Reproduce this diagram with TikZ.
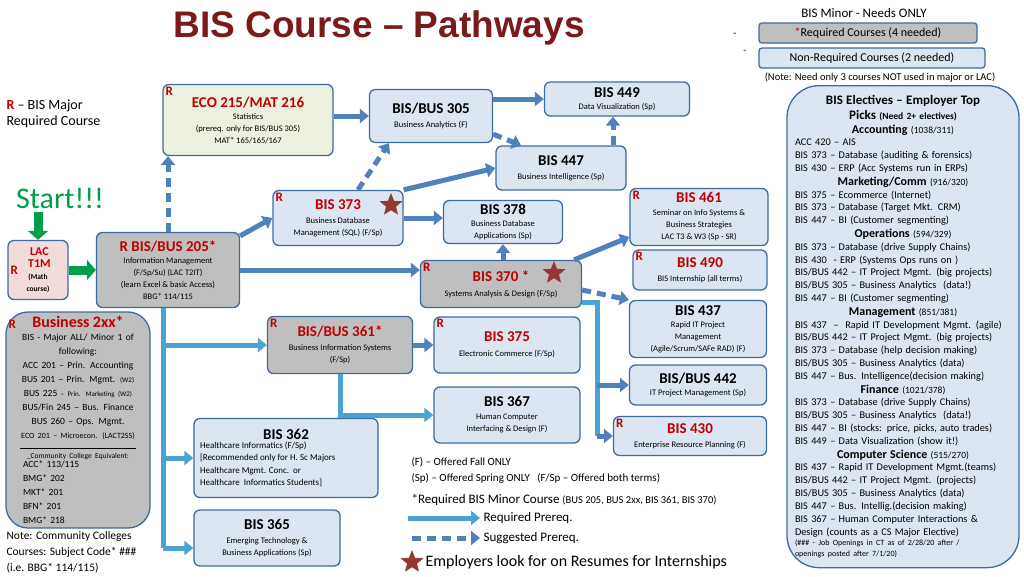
\documentclass[tikz,border=0pt]{standalone}
\usepackage{fontspec}
\setmainfont{Carlito}
\newfontfamily\titlefont{Liberation Sans}
\usetikzlibrary{arrows.meta,shapes.geometric}
\definecolor{boxblue}{HTML}{DCE6F2}
\definecolor{edgeblue}{HTML}{3F6A9E}
\definecolor{arrblue}{HTML}{4F81BD}
\definecolor{arrcyan}{HTML}{4BA3D3}
\definecolor{boxgray}{HTML}{BFBFBF}
\definecolor{boxgreen}{HTML}{EBF1DE}
\definecolor{boxpink}{HTML}{F2DCDB}
\definecolor{redtxt}{HTML}{C00000}
\definecolor{titlered}{HTML}{7B1A1A}
\definecolor{stargreen}{HTML}{00A04A}
\definecolor{starred}{HTML}{953735}
\newcommand{\course}[5][]{
	\path (#2,#3) node[course, #1](#4){#5};
}
\newcommand{\edge}[3][]{
	\draw[#1] (#2) -- (#3);
}
\newcommand{\ttl}[1]{{\fontsize{15}{16}\selectfont\bfseries #1}}
\newcommand{\rttl}[1]{{\fontsize{15}{16}\selectfont\bfseries\color{redtxt}#1}}
\newcommand{\sm}{\fontsize{8.5}{10}\selectfont}
\newcommand{\elhead}[2]{{\centering\fontsize{12}{13.6}\selectfont\bfseries #1 {\mdseries\fontsize{9.5}{10}\selectfont(#2)}\par}}
\tikzset{
	course/.style={draw=edgeblue, line width=1.3pt, fill=boxblue, rounded corners=6pt, align=center, inner sep=2pt},
	graybox/.style={fill=boxgray},
	rlab/.style={text=redtxt, font=\bfseries\fontsize{13}{13}\selectfont, inner sep=3pt},
	req/.style={line width=5pt, draw=arrblue, -{Triangle[length=9pt,width=14pt]}},
	reqc/.style={line width=5pt, draw=arrcyan, -{Triangle[length=9pt,width=14pt]}},
	sug/.style={line width=5pt, draw=arrblue, dash pattern=on 9pt off 6pt, -{Triangle[length=9pt,width=14pt]}},
	trunk/.style={line width=5pt, draw=arrcyan},
	starmark/.style={star, star points=5, star point ratio=2.3, fill=starred, inner sep=0pt, minimum size=24pt},
}
\begin{document}
\begin{tikzpicture}[x=1pt, y=-1pt]
	\useasboundingbox (0,0) rectangle (1024,576);

	% heading and legend at top
	\node (title) at (379,28) {\titlefont\bfseries\fontsize{37}{38}\selectfont\color{titlered}BIS Course – Pathways};
	\node (minor) at (864,13) {\fontsize{13}{14}\selectfont BIS Minor - Needs ONLY};
	\node[course, graybox, rounded corners=3pt, minimum width=218pt, minimum height=20pt] (minreq) at (868,33) {\fontsize{12}{13}\selectfont\textcolor{redtxt}{*}Required Courses (4 needed)};
	\node[course, rounded corners=3pt, minimum width=226pt, minimum height=20pt] (minnon) at (872,58) {\fontsize{12}{13}\selectfont Non-Required Courses (2 needed)};
	\node (dash1) at (735,35) {-};
	\node (dash2) at (745,52) {-};
	\node (note) at (880,78) {\fontsize{10.5}{11}\selectfont(Note: Need only 3 courses NOT used in major or LAC)};
	\node[align=left, anchor=north west, font=\fontsize{14}{16}\selectfont] (rkey) at (3,96) {\textcolor{redtxt}{\bfseries R} -- BIS Major\\ Required Course};
	\node (start) at (60,198) {\fontsize{30}{30}\selectfont\color{stargreen}Start!!!};

	% courses
	\course[fill=boxgreen, minimum width=170pt, minimum height=71pt, label={[rlab, anchor=north west]north west:R}]{248}{120}{eco}{\rttl{ECO 215/MAT 216}\\ \sm Statistics\\ \sm(prereq. only for BIS/BUS 305)\\ \sm MAT* 165/165/167}
	\course[minimum width=123pt, minimum height=53pt]{431}{116}{b305}{\ttl{BIS/BUS 305}\\[2pt] \sm Business Analytics (F)}
	\course[minimum width=145pt, minimum height=34pt]{617}{99}{b449}{\ttl{BIS 449}\\ \sm Data Visualization (Sp)}
	\course[minimum width=130pt, minimum height=44pt]{561}{168}{b447}{\ttl{BIS 447}\\[2pt] \sm Business Intelligence (Sp)}
	\course[minimum width=130pt, minimum height=55pt, label={[rlab, anchor=north west]north west:R}]{338}{218}{b373}{\rttl{BIS 373}\hspace{22pt}\\[2pt] \sm Business Database\\ \sm Management (SQL) (F/Sp)}
	\course[minimum width=119pt, minimum height=43pt]{503}{222}{b378}{\ttl{BIS 378}\\ \sm Business Database\\ \sm Applications (Sp)}
	\course[minimum width=138pt, minimum height=57pt, label={[rlab, anchor=north west]north west:R}]{699}{217}{b461}{\rttl{BIS 461}\\[1pt] \sm Seminar on Info Systems \&\\ \sm Business Strategies\\ \sm LAC T3 \& W3 (Sp - SR)}
	\course[graybox, minimum width=143pt, minimum height=75pt]{168}{270}{b205}{\rttl{R BIS/BUS 205*}\\ \sm Information Management\\ \sm (F/Sp/Su) (LAC T2IT)\\ \sm (learn Excel \& basic Access)\\ \sm BBG* 114/115}
	\course[fill=boxpink, minimum width=60pt, minimum height=59pt, label={[rlab, anchor=west]west:R}]{38}{270}{lac}{\textcolor{redtxt}{\bfseries\fontsize{12}{12}\selectfont\ LAC}\\ \textcolor{redtxt}{\bfseries\fontsize{12}{12}\selectfont\ T1M}\\ \bfseries\fontsize{7.5}{8}\selectfont (Math\\ \bfseries\fontsize{7.5}{8}\selectfont course)}
	\course[graybox, minimum width=161pt, minimum height=47pt, label={[rlab, anchor=north west]north west:R}]{501}{284}{b370}{\rttl{BIS 370 *}\hspace{20pt}\\[3pt] \sm Systems Analysis \& Design (F/Sp)}
	\course[minimum width=134pt, minimum height=40pt, label={[rlab, anchor=north west]north west:R}]{700}{270}{b490}{\rttl{BIS 490}\\[2pt] \sm BIS Internship (all terms)}
	\course[minimum width=137pt, minimum height=57pt]{698}{329}{b437}{\ttl{BIS 437}\\ \sm Rapid IT Project\\ \sm Management\\ \sm (Agile/Scrum/SAFe RAD) (F)}
	\course[graybox, rounded corners=22pt, text width=140pt, minimum height=216pt, label={[rlab, anchor=north west, yshift=-6pt]north west:R}]{78}{420}{b2xx}{{\fontsize{16}{18}\selectfont\bfseries\color{redtxt}Business 2xx*}\\[-1pt]
		\fontsize{9.5}{14}\selectfont BIS - Major ALL/ Minor 1 of\\ following:\\ ACC 201 -- Prin. Accounting\\ BUS 201 -- Prin. Mgmt. {\fontsize{7}{8}\selectfont(W2)}\\ BUS 225 {\fontsize{7}{8}\selectfont-- Prin. Marketing (W2)}\\ BUS/Fin 245 -- Bus. Finance\\ BUS 260 -- Ops. Mgmt.\\ {\fontsize{8}{9}\selectfont ECO 201 -- Microecon. (LACT2SS)}\\[-4pt] \rule{116pt}{0.4pt}\\[-4pt] {\fontsize{7.5}{9}\selectfont \_Community College Equivalent:}\\
		\hspace*{-32pt}\parbox{78pt}{\raggedright ACC* 113/115\\ BMG* 202\\ MKT* 201\\ BFN* 201\\ BMG* 218}}
	\course[graybox, minimum width=145pt, minimum height=57pt, label={[rlab, anchor=north west]north west:R}]{340}{345}{b361}{\rttl{BIS/BUS 361*}\\[2pt] \sm Business Information Systems\\ \sm (F/Sp)}
	\course[minimum width=146pt, minimum height=56pt, label={[rlab, anchor=north west]north west:R}]{507}{345}{b375}{\rttl{BIS 375}\\[3pt] \sm Electronic Commerce (F/Sp)}
	\course[minimum width=137pt, minimum height=40pt]{698}{385}{b442}{\ttl{BIS/BUS 442}\\ \sm IT Project Management (Sp)}
	\course[minimum width=146pt, minimum height=56pt]{507}{415}{b367}{\ttl{BIS 367}\\[1pt] \sm Human Computer\\ \sm Interfacing \& Design (F)}
	\course[minimum width=153pt, minimum height=39pt, label={[rlab, anchor=north west]north west:R}]{690}{436}{b430}{\rttl{BIS 430}\\[2pt] \sm Enterprise Resource Planning (F)}
	\course[minimum width=184pt, minimum height=79pt]{286}{458}{b362}{\ttl{BIS 362}\\[1pt] \parbox{172pt}{\raggedright\fontsize{9}{12.5}\selectfont Healthcare Informatics (F/Sp)\\ {[}Recommended only for H. Sc Majors\\ Healthcare Mgmt. Conc.\ \ or\\ Healthcare\ \ Informatics Students{]}}}
	\course[minimum width=146pt, minimum height=56pt]{267}{538}{b365}{\ttl{BIS 365}\\[2pt] \sm Emerging Technology \&\\ \sm Business Applications (Sp)}

	% electives
	\course[rounded corners=32pt, text width=216pt, minimum height=482pt, anchor=north, inner xsep=8pt, inner ysep=4pt]{903}{85}{elect}{\fontsize{10.3}{12.85}\selectfont\raggedright
		{\centering\fontsize{13}{14.5}\selectfont\bfseries BIS Electives – Employer Top\\ Picks {\fontsize{9.5}{10}\selectfont(Need 2+ electives)}\par}
		\elhead{Accounting}{1038/311}
		ACC 420 – AIS\\ BIS 373 – Database (auditing \& forensics)\\ BIS 430 – ERP (Acc Systems run in ERPs)\par
		\elhead{Marketing/Comm}{916/320}
		BIS 375 – Ecommerce (Internet)\\ BIS 373 – Database (Target Mkt. CRM)\\ BIS 447 – BI (Customer segmenting)\par
		\elhead{Operations}{594/329}
		BIS 373 – Database (drive Supply Chains)\\ BIS 430\ \ - ERP (Systems Ops runs on )\\ BIS/BUS 442 – IT Project Mgmt. (big projects)\\ BIS/BUS 305 – Business Analytics\ \ (data!)\\ BIS 447 – BI (Customer segmenting)\par
		\elhead{Management}{851/381}
		BIS 437\ \ –\ \ Rapid IT Development Mgmt. (agile)\\ BIS/BUS 442 – IT Project Mgmt. (big projects)\\ BIS 373 – Database (help decision making)\\ BIS/BUS 305 – Business Analytics (data)\\ BIS 447 – Bus. Intelligence(decision making)\par
		\elhead{Finance}{1021/378}
		BIS 373 – Database (drive Supply Chains)\\ BIS/BUS 305 – Business Analytics\ \ (data!)\\ BIS 447 – BI (stocks: price, picks, auto trades)\\ BIS 449 – Data Visualization (show it!)\par
		\elhead{Computer Science}{515/270}
		BIS 437 – Rapid IT Development Mgmt.(teams)\\ BIS/BUS 442 – IT Project Mgmt. (projects)\\ BIS/BUS 305 – Business Analytics (data)\\ BIS 447 – Bus. Intellig.(decision making)\\ BIS 367 – Human Computer Interactions \&\\ Design (counts as a CS Major Elective)\par
		{\fontsize{8}{10.5}\selectfont(\#\#\# - Job Openings in CT as of 2/28/20 after /\\ openings posted after 7/1/20)\par}}

	% stars
	\node[starmark] (s373) at (391,205) {};
	\node[starmark] (s370) at (554,273) {};

	% prerequisite arrows
	\draw[stargreen, line width=9pt, -{Triangle[length=9pt,width=20pt]}] (start.south -| lac.north) -- (lac.north);
	\draw[stargreen, line width=9pt, -{Triangle[length=9pt,width=20pt]}] (lac.east) -- (b205.west);
	\edge[sug]{b205.north}{b205.north |- eco.south}
	\edge[req]{[yshift=-4pt]b205.north east}{b373.west}
	\edge[req]{b205.east}{b205.east -| b370.west}
	\edge[req]{eco.east |- b305.west}{b305.west}
	\edge[req]{b305.east |- b449.west}{b449.west}
	\edge[sug]{[yshift=9pt]b305.south east}{[xshift=-40pt]b447.north}
	\edge[sug]{[xshift=52pt]b447.north}{[xshift=52pt]b447.north |- b449.south}
	\edge[sug]{[xshift=20pt]b373.north}{[xshift=-42pt]b305.south}
	\edge[req]{b373.north east}{b447.west}
	\edge[req]{b373.east}{b373.east -| b378.west}
	\edge[req]{b378.south |- b370.north}{b378.south}
	\edge[req]{[xshift=-8pt]b370.north east}{[yshift=-20pt]b461.west}
	\edge[sug]{[yshift=-6pt]b370.east}{b437.north west}
	\edge[req]{b361.east |- b375.west}{b375.west}

	% trunk lines
	\coordinate (t205) at (163,548);
	\coordinate (t370) at (597,436);
	\draw[trunk] (t205 |- b205.south) -- (t205);
	\edge[reqc]{t205}{t205 -| b365.west}
	\edge[reqc]{t205 |- b361.west}{b361.west}
	\edge[reqc]{t205 |- b362.west}{b362.west}
	\draw[reqc] (b361.south) |- (b367.west);
	\draw[trunk] ([yshift=6pt]b370.south east) -| (t370);
	\edge[req]{t370}{t370 -| b430.west}
	\edge[req]{t370 |- b442.west}{b442.west}

	% legend
	\node[anchor=west, align=left, font=\fontsize{11}{16}\selectfont] (offer) at (408,470) {(F) -- Offered Fall ONLY\\ (Sp) -- Offered Spring ONLY\ \ \ (F/Sp -- Offered both terms)};
	\node[anchor=west] (minkey) at (408,500) {\fontsize{13}{14}\selectfont\textcolor{starred}{\bfseries*}Required BIS Minor Course {\fontsize{10.5}{11}\selectfont(BUS 205, BUS 2xx, BIS 361, BIS 370)}};
	\coordinate (lr1) at (408,518);
	\coordinate (lr2) at (480,518);
	\coordinate (ls1) at (412,538);
	\coordinate (ls2) at (480,538);
	\edge[reqc]{lr1}{lr2}
	\edge[sug]{ls1}{ls2}
	\node[anchor=west] (reqkey) at (480,518) {\fontsize{13}{14}\selectfont Required Prereq.};
	\node[anchor=west] (sugkey) at (480,538) {\fontsize{13}{14}\selectfont Suggested Prereq.};
	\node[starmark] (skey) at (412,562) {};
	\node[anchor=west] (empkey) at (422,562) {\fontsize{16}{17}\selectfont Employers look for on Resumes for Internships};
	\node[anchor=north west, align=left, font=\fontsize{11.5}{16}\selectfont] (ccnote) at (3,528) {Note: Community Colleges\\ Courses: Subject Code* \#\#\#\\ (i.e. BBG* 114/115)};
\end{tikzpicture}
\end{document}
